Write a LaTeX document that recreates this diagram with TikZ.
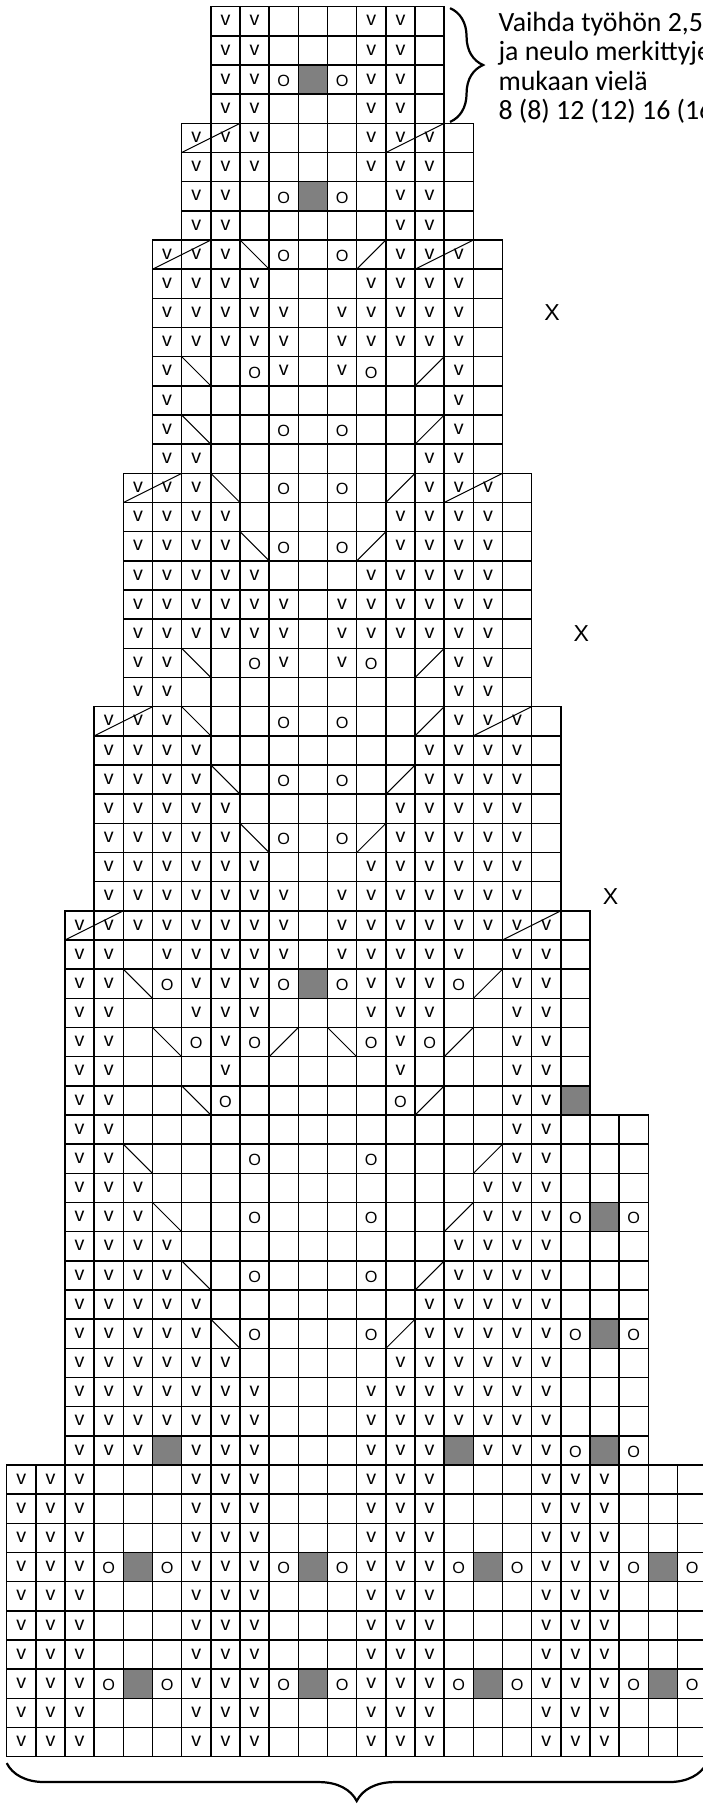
\documentclass[tikz,border=0pt]{standalone}
\usepackage{fontspec}
\setmainfont{Liberation Sans}
\newfontfamily\notefont{Carlito}
\usetikzlibrary{decorations.pathreplacing}

\tikzset{
  ruutu/.style={draw, line width=0.9pt},
  harmaa/.style={ruutu, fill=gray},
  vino/.style={line width=0.6pt},
  vmerkki/.style={inner sep=0pt, font=\fontsize{11.5}{12}\selectfont},
  omerkki/.style={inner sep=0pt, font=\fontsize{9.5}{11}\selectfont},
  xmerkki/.style={inner sep=0pt, font=\fontsize{13.5}{15}\selectfont},
  huom/.style={inner sep=0pt, anchor=base west, font=\notefont\fontsize{16.3}{18}\selectfont},
  sulku/.style={decorate, line width=1.3pt},
}

% one cell: #1 = column, #2 = row
\newcommand{\ruutue}[2]{\draw[ruutu] (#1,#2) rectangle ++(1,1);}
\newcommand{\ruutuv}[2]{\draw[ruutu] (#1,#2) rectangle ++(1,1);
  \node[vmerkki] (m#2-#1) at (#1+0.5,#2+0.52) {v};}
\newcommand{\ruutuo}[2]{\draw[ruutu] (#1,#2) rectangle ++(1,1);
  \node[omerkki] (m#2-#1) at (#1+0.5,#2+0.46) {O};}
\newcommand{\ruutug}[2]{\draw[harmaa] (#1,#2) rectangle ++(1,1);}
\newcommand{\ruutul}[2]{\draw[ruutu] (#1,#2) rectangle ++(1,1);
  \draw[vino] (#1,#2+1) -- ++(1,-1);}
\newcommand{\ruutur}[2]{\draw[ruutu] (#1,#2) rectangle ++(1,1);
  \draw[vino] (#1,#2) -- ++(1,1);}
\newcommand{\ruutus}[2]{\ruutuv{#1}{#2}
  \draw[vino] (#1,#2) -- ++(2,1);}

% one row: #1 = row, #2 = first column, #3 = cells
\newcommand{\kerros}[3]{%
  \foreach \k [count=\n from #2] in {#3} {\csname ruutu\k\endcsname{\n}{#1}}}

\begin{document}
\begin{tikzpicture}[x=6mm,y=6mm]
\useasboundingbox (-0.23,-1.656) rectangle (23.84,60.23);

% top
\kerros{59}{7}{v,v,e,e,e,v,v,e}
\kerros{58}{7}{v,v,e,e,e,v,v,e}
\kerros{57}{7}{v,v,o,g,o,v,v,e}
\kerros{56}{7}{v,v,e,e,e,v,v,e}
\kerros{55}{6}{s,v,v,e,e,e,v,s,v,e}
\kerros{54}{6}{v,v,v,e,e,e,v,v,v,e}
\kerros{53}{6}{v,v,e,o,g,o,e,v,v,e}
\kerros{52}{6}{v,v,e,e,e,e,e,v,v,e}
\kerros{51}{5}{s,v,v,l,o,e,o,r,v,s,v,e}
\kerros{50}{5}{v,v,v,v,e,e,e,v,v,v,v,e}
\kerros{49}{5}{v,v,v,v,v,e,v,v,v,v,v,e}
\kerros{48}{5}{v,v,v,v,v,e,v,v,v,v,v,e}
\kerros{47}{5}{v,l,e,o,v,e,v,o,e,r,v,e}
\kerros{46}{5}{v,e,e,e,e,e,e,e,e,e,v,e}
\kerros{45}{5}{v,l,e,e,o,e,o,e,e,r,v,e}
\kerros{44}{5}{v,v,e,e,e,e,e,e,e,v,v,e}
\kerros{43}{4}{s,v,v,l,e,o,e,o,e,r,v,s,v,e}
\kerros{42}{4}{v,v,v,v,e,e,e,e,e,v,v,v,v,e}
\kerros{41}{4}{v,v,v,v,l,o,e,o,r,v,v,v,v,e}
\kerros{40}{4}{v,v,v,v,v,e,e,e,v,v,v,v,v,e}
\kerros{39}{4}{v,v,v,v,v,v,e,v,v,v,v,v,v,e}
\kerros{38}{4}{v,v,v,v,v,v,e,v,v,v,v,v,v,e}
\kerros{37}{4}{v,v,l,e,o,v,e,v,o,e,r,v,v,e}
\kerros{36}{4}{v,v,e,e,e,e,e,e,e,e,e,v,v,e}
\kerros{35}{3}{s,v,v,l,e,e,o,e,o,e,e,r,v,s,v,e}
\kerros{34}{3}{v,v,v,v,e,e,e,e,e,e,e,v,v,v,v,e}
\kerros{33}{3}{v,v,v,v,l,e,o,e,o,e,r,v,v,v,v,e}
\kerros{32}{3}{v,v,v,v,v,e,e,e,e,e,v,v,v,v,v,e}
\kerros{31}{3}{v,v,v,v,v,l,o,e,o,r,v,v,v,v,v,e}
\kerros{30}{3}{v,v,v,v,v,v,e,e,e,v,v,v,v,v,v,e}
\kerros{29}{3}{v,v,v,v,v,v,v,e,v,v,v,v,v,v,v,e}

% middle
\kerros{28}{2}{s,v,v,v,v,v,v,v,e,v,v,v,v,v,v,s,v,e}
\kerros{27}{2}{v,v,e,v,v,v,v,v,e,v,v,v,v,v,e,v,v,e}
\kerros{26}{2}{v,v,l,o,v,v,v,o,g,o,v,v,v,o,r,v,v,e}
\kerros{25}{2}{v,v,e,e,v,v,v,e,e,e,v,v,v,e,e,v,v,e}
\kerros{24}{2}{v,v,e,l,o,v,o,r,e,l,o,v,o,r,e,v,v,e}
\kerros{23}{2}{v,v,e,e,e,v,e,e,e,e,e,v,e,e,e,v,v,e}
\kerros{22}{2}{v,v,e,e,l,o,e,e,e,e,e,o,r,e,e,v,v,g}
\kerros{21}{2}{v,v,e,e,e,e,e,e,e,e,e,e,e,e,e,v,v,e,e,e}
\kerros{20}{2}{v,v,l,e,e,e,o,e,e,e,o,e,e,e,r,v,v,e,e,e}
\kerros{19}{2}{v,v,v,e,e,e,e,e,e,e,e,e,e,e,v,v,v,e,e,e}
\kerros{18}{2}{v,v,v,l,e,e,o,e,e,e,o,e,e,r,v,v,v,o,g,o}
\kerros{17}{2}{v,v,v,v,e,e,e,e,e,e,e,e,e,v,v,v,v,e,e,e}
\kerros{16}{2}{v,v,v,v,l,e,o,e,e,e,o,e,r,v,v,v,v,e,e,e}
\kerros{15}{2}{v,v,v,v,v,e,e,e,e,e,e,e,v,v,v,v,v,e,e,e}
\kerros{14}{2}{v,v,v,v,v,l,o,e,e,e,o,r,v,v,v,v,v,o,g,o}
\kerros{13}{2}{v,v,v,v,v,v,e,e,e,e,e,v,v,v,v,v,v,e,e,e}
\kerros{12}{2}{v,v,v,v,v,v,v,e,e,e,v,v,v,v,v,v,v,e,e,e}
\kerros{11}{2}{v,v,v,v,v,v,v,e,e,e,v,v,v,v,v,v,v,e,e,e}
\kerros{10}{2}{v,v,v,g,v,v,v,e,e,e,v,v,v,g,v,v,v,o,g,o}

% bottom
\foreach \rv in {0,1,3,4,5,7,8,9}
  {\kerros{\rv}{0}{v,v,v,e,e,e,v,v,v,e,e,e,v,v,v,e,e,e,v,v,v,e,e,e}}
\foreach \rv in {2,6}
  {\kerros{\rv}{0}{v,v,v,o,g,o,v,v,v,o,g,o,v,v,v,o,g,o,v,v,v,o,g,o}}

% marks
\node[xmerkki] (x1) at (18.7,49.5) {X};
\node[xmerkki] (x2) at (19.7,38.5) {X};
\node[xmerkki] (x3) at (20.7,29.5) {X};

% note
\node[huom] (huom1) at (16.85,59.14) {Vaihda työhön 2,5};
\node[huom] (huom2) at (16.85,58.14) {ja neulo merkittyje};
\node[huom] (huom3) at (16.85,57.14) {mukaan vielä};
\node[huom] (huom4) at (16.85,56.14) {8 (8) 12 (12) 16 (16};

\coordinate (ylaA) at (15.2,59.95);
\coordinate (ylaB) at (15.2,56.05);
\draw[sulku, decoration={brace, amplitude=6.8mm}] (ylaA) -- (ylaB);

\coordinate (alaA) at (0,-0.22);
\coordinate (alaB) at (24,-0.22);
\draw[sulku, decoration={brace, mirror, amplitude=7.8mm}] (alaA) -- (alaB);
\end{tikzpicture}
\end{document}
